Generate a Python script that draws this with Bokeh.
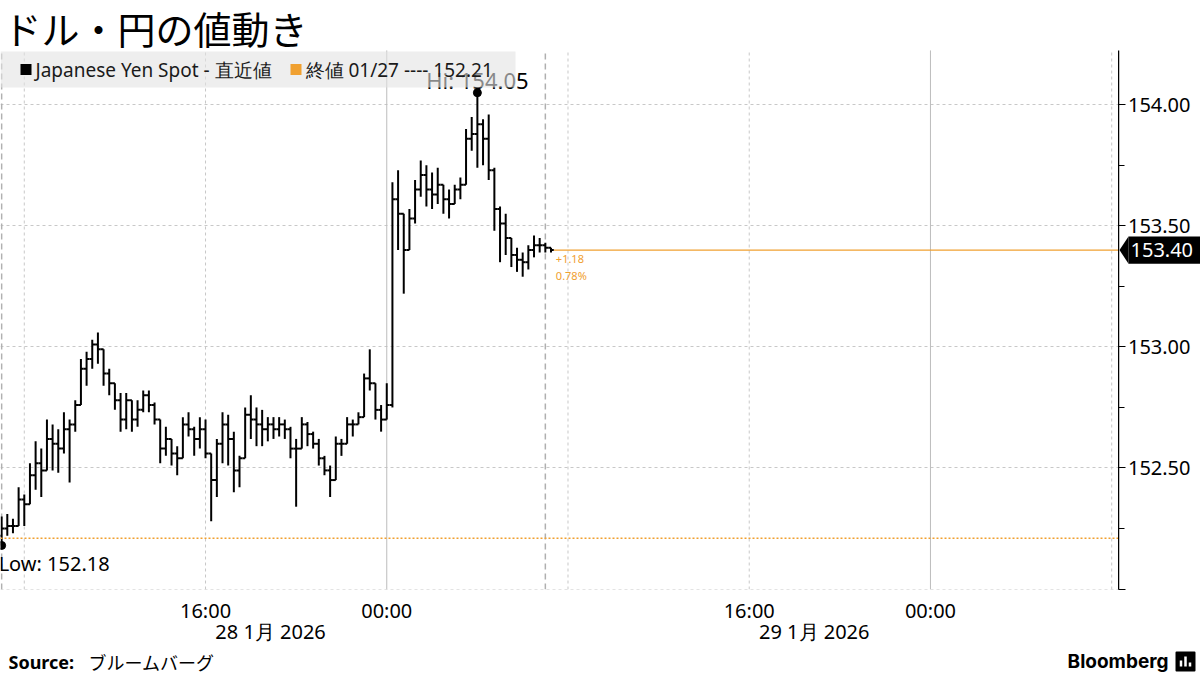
import numpy as np
import pandas as pd
from bokeh.plotting import figure
from bokeh.layouts import column, row
from bokeh.models import (Range1d, FixedTicker, LinearAxis, Span, Label, Grid,
                          BoxAnnotation, ColumnDataSource)
from bokeh.core.properties import value
from bokeh.embed import file_html
from bokeh.resources import INLINE

# ---------------- data ----------------
title_text = "ドル・円の値動き"
series_name = "Japanese Yen Spot - 直近値"
prev_close_label = "終値 01/27 ---- 152.21"
prev_close = 152.21
last_price = 153.40
change_text = "+1.18"
change_pct_text = "0.78%"
source_label = "Source:"
source_text = "ブルームバーグ"
brand_text = "Bloomberg"

bar_start = pd.Timestamp("2026-01-28 07:00")
bar_minutes = 15
first_open = 152.22

highs = [152.30, 152.31, 152.29, 152.42, 152.39, 152.52, 152.61, 152.58, 152.70, 152.68,
         152.66, 152.73, 152.70, 152.78, 152.95, 152.98, 153.03, 153.06, 152.99, 152.91,
         152.85, 152.81, 152.81, 152.78, 152.78, 152.82, 152.82, 152.77, 152.70, 152.67,
         152.62, 152.59, 152.71, 152.73, 152.67, 152.71, 152.70, 152.56, 152.62, 152.73,
         152.72, 152.65, 152.55, 152.75, 152.80, 152.75, 152.74, 152.71, 152.71, 152.71,
         152.70, 152.67, 152.62, 152.71, 152.69, 152.65, 152.62, 152.55, 152.51, 152.63,
         152.62, 152.71, 152.70, 152.73, 152.89, 152.99, 152.85, 152.76, 152.85, 153.68,
         153.73, 153.55, 153.57, 153.69, 153.77, 153.75, 153.72, 153.74, 153.67, 153.65,
         153.67, 153.70, 153.90, 153.95, 154.05, 153.94, 153.96, 153.74, 153.58, 153.55,
         153.45, 153.41, 153.39, 153.42, 153.46, 153.45, 153.43, 153.41]

lows = [152.18, 152.22, 152.23, 152.26, 152.26, 152.35, 152.41, 152.38, 152.49, 152.49,
        152.48, 152.56, 152.44, 152.65, 152.76, 152.84, 152.91, 152.93, 152.84, 152.80,
        152.74, 152.65, 152.66, 152.65, 152.67, 152.73, 152.73, 152.68, 152.52, 152.55,
        152.51, 152.47, 152.54, 152.63, 152.55, 152.58, 152.54, 152.28, 152.38, 152.52,
        152.51, 152.40, 152.42, 152.54, 152.62, 152.59, 152.59, 152.61, 152.62, 152.63,
        152.62, 152.54, 152.34, 152.58, 152.59, 152.58, 152.51, 152.47, 152.38, 152.45,
        152.55, 152.60, 152.63, 152.68, 152.71, 152.82, 152.70, 152.65, 152.70, 152.75,
        153.40, 153.22, 153.40, 153.51, 153.62, 153.58, 153.57, 153.59, 153.55, 153.53,
        153.59, 153.61, 153.67, 153.81, 153.74, 153.75, 153.69, 153.48, 153.35, 153.38,
        153.33, 153.31, 153.29, 153.32, 153.37, 153.39, 153.39, 153.39]

closes = [152.25, 152.26, 152.26, 152.37, 152.35, 152.47, 152.52, 152.49, 152.62, 152.60,
          152.58, 152.66, 152.68, 152.76, 152.91, 152.95, 153.01, 152.99, 152.89, 152.85,
          152.78, 152.70, 152.78, 152.70, 152.74, 152.80, 152.76, 152.70, 152.58, 152.62,
          152.56, 152.54, 152.68, 152.66, 152.62, 152.66, 152.56, 152.45, 152.60, 152.68,
          152.62, 152.49, 152.54, 152.72, 152.70, 152.68, 152.66, 152.68, 152.66, 152.68,
          152.66, 152.58, 152.58, 152.68, 152.64, 152.60, 152.54, 152.49, 152.45, 152.60,
          152.60, 152.68, 152.68, 152.71, 152.87, 152.85, 152.74, 152.70, 152.76, 153.61,
          153.55, 153.40, 153.53, 153.65, 153.71, 153.65, 153.63, 153.67, 153.61, 153.59,
          153.65, 153.67, 153.86, 153.88, 153.92, 153.86, 153.73, 153.57, 153.51, 153.45,
          153.38, 153.36, 153.35, 153.40, 153.42, 153.42, 153.41, 153.40]

x_tick_hours = [16, 24, 40, 48]
x_tick_labels = ["16:00", "00:00", "16:00", "00:00"]
date_label_hours = [16, 40]
date_labels = ["28 1月 2026", "29 1月 2026"]
y_ticks = [152.0, 152.5, 153.0, 153.5, 154.0]
y_minor_ticks = [152.25, 152.75, 153.25, 153.75]
y_tick_labels = ["", "152.50", "153.00", "153.50", "154.00"]
grid_hours = [8, 16, 32, 40, 56]
day_hours = [24, 48]
marker_hours = [7, 31]

# ---------------- derived / layout ----------------
CJK = "Noto Sans CJK JP"
LAT = "Noto Sans"
ORANGE = "#f0a030"
GRID = "#c8c8c8"
day0 = pd.Timestamp("2026-01-28 00:00")
n = len(closes)
times = [bar_start + pd.Timedelta(minutes=bar_minutes * i) for i in range(n)]
t = np.array([(tt - day0).total_seconds() / 3600.0 for tt in times])
opens = [first_open] + closes[:-1]
half = bar_minutes / 60.0 / 2.0

x_start, x_end = 6.95, 56.3
W_TOTAL = 1200
AXIS_W = 82
MAIN_W = W_TOTAL - AXIS_W
FOOT_H = 28
MAIN_H = 675 - FOOT_H
MB_TOP, MB_BOTTOM = 0, 57
FH = MAIN_H - MB_TOP - MB_BOTTOM          # frame height (frame starts at the page top)
HEAD = 50                                  # header strip inside the frame (title, no grid)
y_lo_lim, y_hi_lim = 151.998, 154.431
y_range = Range1d(y_lo_lim, y_hi_lim)
px_per_unit = FH / (y_hi_lim - y_lo_lim)
y_head = y_hi_lim - HEAD / px_per_unit     # top of the gridded plotting region


def sy(page_y):
    """page pixel row -> screen units measured up from the frame bottom"""
    return FH - page_y


def sbox(l, r, top, bot, color, alpha):
    return BoxAnnotation(left=l, right=r, top=top, bottom=bot,
                         left_units="screen", right_units="screen",
                         top_units="screen", bottom_units="screen",
                         fill_color=color, fill_alpha=alpha, line_color=None)


def vlines(hours, **style):
    k = len(hours)
    p.segment(x0=hours, y0=[y_lo_lim] * k, x1=hours, y1=[y_head] * k, **style)

# ---------------- main chart ----------------
p = figure(width=MAIN_W, height=MAIN_H, x_range=Range1d(x_start, x_end),
           y_range=y_range, y_axis_type=None,
           toolbar_location=None, output_backend="svg",
           min_border_left=0, min_border_right=0,
           min_border_top=MB_TOP, min_border_bottom=MB_BOTTOM,
           outline_line_color=None)

p.xgrid.visible = False
p.add_layout(Grid(dimension=1, ticker=FixedTicker(ticks=y_ticks),
                  grid_line_color=GRID, grid_line_dash="3 3", grid_line_width=1))

vlines(grid_hours, line_color=GRID, line_width=1, line_dash="3 3")
vlines(day_hours, line_color="#bdbdbd", line_width=1)
vlines(marker_hours, line_color="#b0b0b0", line_width=1.5, line_dash="6 4")
p.add_layout(Span(location=prev_close, dimension="width", line_color=ORANGE,
                  line_width=1.5, line_dash="2 2"))

src = ColumnDataSource(dict(t=t, tl=t - half, tr=t + half, hi=highs, lo=lows,
                            op=opens, cl=closes))
p.segment(x0="t", y0="lo", x1="t", y1="hi", source=src, line_color="black", line_width=2)
p.segment(x0="tl", y0="op", x1="t", y1="op", source=src, line_color="black", line_width=2)
p.segment(x0="t", y0="cl", x1="tr", y1="cl", source=src, line_color="black", line_width=2)

p.segment(x0=[t[-1] + half], y0=[last_price], x1=[x_end], y1=[last_price],
          line_color=ORANGE, line_width=1.2)

i_hi = int(np.argmax(highs))
i_lo = int(np.argmin(lows))
p.scatter([t[i_hi], t[i_lo]], [highs[i_hi], lows[i_lo]], size=8, color="black")

# title in the header strip
p.add_layout(Label(x=3, y=sy(28), x_units="screen", y_units="screen", text=title_text,
                   text_baseline="middle", text_font=CJK, text_font_size="38px",
                   text_color="black"))

p.add_layout(Label(x=t[i_hi], y=highs[i_hi], text=f"Hi: {highs[i_hi]:.2f}",
                   text_align="center", text_baseline="middle", y_offset=13,
                   text_font=LAT, text_font_size="22px", text_color="black"))
p.add_layout(Label(x=t[i_lo], y=lows[i_lo], text=f"Low: {lows[i_lo]:.2f}",
                   text_align="left", text_baseline="middle", y_offset=-18, x_offset=-3,
                   text_font=LAT, text_font_size="20px", text_color="black"))

p.add_layout(Label(x=t[-1] + half, y=last_price, text=change_text, x_offset=2, y_offset=-9,
                   text_baseline="middle", text_align="left", text_font=LAT,
                   text_font_size="11px", text_color=ORANGE))
p.add_layout(Label(x=t[-1] + half, y=last_price, text=change_pct_text, x_offset=2, y_offset=-25,
                   text_baseline="middle", text_align="left", text_font=LAT,
                   text_font_size="11px", text_color=ORANGE))

# legend (semi-transparent, drawn over the Hi label like the original)
p.add_layout(sbox(0, 515, sy(52), sy(88), "#e2e2e2", 0.6))
ly = sy(70)
p.add_layout(sbox(20, 31, ly + 5.5, ly - 5.5, "black", 1))
p.add_layout(sbox(290, 301, ly + 5.5, ly - 5.5, ORANGE, 1))
p.add_layout(Label(x=35, y=ly, x_units="screen", y_units="screen", text=series_name,
                   text_baseline="middle", text_font=LAT, text_font_size="19px",
                   text_color="#1a1a1a"))
p.add_layout(Label(x=305, y=ly, x_units="screen", y_units="screen", text=prev_close_label,
                   text_baseline="middle", text_font=LAT, text_font_size="19px",
                   text_color="#1a1a1a"))

xa = p.xaxis[0]
xa.ticker = FixedTicker(ticks=x_tick_hours)
xa.major_label_overrides = {v: s for v, s in zip(x_tick_hours, x_tick_labels)}
xa.axis_line_color = None
xa.major_tick_line_color = None
xa.minor_tick_line_color = None
xa.major_label_standoff = 1
xa.major_label_text_font = LAT
xa.major_label_text_font_size = "20px"
xa.major_label_text_color = "black"

date_pos = [h + 2.87 for h in date_label_hours]
da = LinearAxis(ticker=FixedTicker(ticks=date_pos),
                major_label_overrides={v: s for v, s in zip(date_pos, date_labels)},
                axis_line_color=None, major_tick_line_color=None,
                minor_tick_line_color=None, major_label_standoff=-15,
                major_label_text_font=LAT, major_label_text_font_size="20px",
                major_label_text_color="black")
p.add_layout(da, "below")

# ---------------- price axis strip ----------------
af = figure(width=AXIS_W, height=MAIN_H, x_range=Range1d(0, AXIS_W), y_range=y_range,
            x_axis_type=None, y_axis_location="left", toolbar_location=None,
            output_backend="svg", min_border_left=0, min_border_right=0,
            min_border_top=MB_TOP, min_border_bottom=MB_BOTTOM, outline_line_color=None)
af.ygrid.visible = False
ya = af.yaxis[0]
ya.bounds = (y_lo_lim, y_head)
ya.ticker = FixedTicker(ticks=y_ticks, minor_ticks=y_minor_ticks)
ya.major_label_overrides = {v: s for v, s in zip(y_ticks, y_tick_labels)}
ya.axis_line_color = "black"
ya.axis_line_width = 1.5
ya.major_tick_in = 7
ya.major_tick_out = 0
ya.minor_tick_in = 6
ya.minor_tick_out = 0
ya.major_tick_line_color = "black"
ya.minor_tick_line_color = "black"
ya.major_label_standoff = -72
ya.major_label_text_font = LAT
ya.major_label_text_font_size = "20px"
ya.major_label_text_color = "black"

tag_h = 0.056
af.quad(left=[10], right=[AXIS_W], bottom=[last_price - tag_h], top=[last_price + tag_h],
        fill_color="black", line_color=None)
af.patch(x=[1, 10, 10], y=[last_price, last_price + tag_h, last_price - tag_h],
         fill_color="black", line_color=None)
af.text(x=[12], y=[last_price], text=[f"{last_price:.2f}"], text_font=value(LAT),
        text_font_size="20px", text_baseline="middle", text_color="white")

# ---------------- footer strip ----------------
ff = figure(width=W_TOTAL, height=FOOT_H, x_range=Range1d(0, W_TOTAL), y_range=Range1d(0, FOOT_H),
            x_axis_type=None, y_axis_type=None, toolbar_location=None,
            output_backend="svg", min_border=0, outline_line_color=None)
fc = FOOT_H / 2
ff.text(x=[8], y=[fc], text=[source_label], text_font=value(LAT), text_font_size="18px",
        text_font_style="bold", text_baseline="middle", text_color="black")
ff.text(x=[88], y=[fc], text=[source_text], text_font=value(CJK), text_font_size="18px",
        text_baseline="middle", text_color="black")
ff.text(x=[1168], y=[fc], text=[brand_text], text_font=value("Inter"), text_font_size="19px",
        text_font_style="bold", text_baseline="middle", text_align="right",
        text_color="black")
ff.quad(left=[1176], right=[1194], bottom=[5], top=[23], fill_color="black",
        line_color="black", line_join="round", line_width=2)
ff.segment(x0=[1180.5, 1185, 1189.5], y0=[9, 9, 9], x1=[1180.5, 1185, 1189.5],
           y1=[15, 19, 13], line_color="white", line_width=2.5)

layout = column(row(p, af, spacing=0), ff, spacing=0)
open("out.html", "w").write(file_html(layout, INLINE))
